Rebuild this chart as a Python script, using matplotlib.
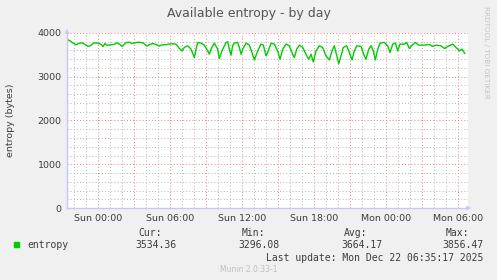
import matplotlib.pyplot as plt

# hours relative to Sun 00:00, and entropy values
hours = [-2.58, -2.33, -2.08, -1.83, -1.58, -1.33, -1.08, -0.83, -0.58, -0.33,
         -0.08, 0.17, 0.33, 0.42, 0.58, 0.75, 1.08, 1.33, 1.58, 1.83,
         2.0, 2.33, 2.58, 2.83, 3.08, 3.33, 3.75, 4.08, 4.33, 4.58,
         4.92, 5.08, 5.33, 5.58, 6.0, 6.42, 6.5, 6.78, 7.0, 7.19,
         7.47, 7.75, 8.03, 8.17, 8.31, 8.58, 8.86, 9.14, 9.28, 9.42,
         9.69, 9.97, 10.11, 10.33, 10.67, 10.81, 10.94, 11.08, 11.22, 11.36,
         11.64, 11.78, 11.92, 12.06, 12.33, 12.61, 12.83, 13.03, 13.31, 13.58,
         13.78, 14.0, 14.14, 14.42, 14.69, 14.97, 15.17, 15.39, 15.67, 15.94,
         16.22, 16.36, 16.56, 16.78, 17.06, 17.33, 17.56, 17.75, 17.94, 18.17,
         18.44, 18.72, 19.0, 19.28, 19.5, 19.69, 19.83, 20.06, 20.25, 20.44,
         20.72, 20.94, 21.17, 21.36, 21.56, 21.92, 22.19, 22.33, 22.56, 22.75,
         22.94, 23.11, 23.31, 23.5, 23.86, 24.14, 24.33, 24.56, 24.78, 24.97,
         25.17, 25.53, 25.72, 25.94, 26.17, 26.44, 26.72, 27.19, 27.61, 27.89,
         28.17, 28.58, 28.86, 29.14, 29.56, 29.83, 30.11, 30.33, 30.56]
entropy = [3856, 3820, 3770, 3730, 3765, 3775, 3740, 3690, 3720, 3775,
           3770, 3750, 3720, 3690, 3760, 3720, 3730, 3740, 3775, 3740,
           3690, 3780, 3790, 3760, 3775, 3790, 3775, 3700, 3740, 3760,
           3730, 3700, 3730, 3730, 3750, 3750, 3746, 3646, 3592, 3669,
           3708, 3631, 3438, 3631, 3785, 3769, 3723, 3592, 3515, 3631,
           3769, 3631, 3415, 3592, 3785, 3800, 3631, 3492, 3708, 3769,
           3785, 3669, 3515, 3631, 3769, 3723, 3554, 3385, 3592, 3746,
           3723, 3477, 3554, 3769, 3746, 3592, 3400, 3631, 3746, 3708,
           3515, 3438, 3631, 3723, 3669, 3515, 3400, 3515, 3338, 3592,
           3708, 3669, 3477, 3385, 3592, 3708, 3554, 3296, 3477, 3669,
           3708, 3554, 3385, 3592, 3708, 3692, 3477, 3400, 3631, 3708,
           3592, 3385, 3631, 3769, 3785, 3708, 3554, 3746, 3769, 3592,
           3746, 3746, 3785, 3646, 3723, 3785, 3723, 3723, 3738, 3692,
           3723, 3708, 3646, 3692, 3746, 3669, 3592, 3631, 3534]

tick_hours = [0, 6, 12, 18, 24, 30]
tick_labels = ['Sun 00:00', 'Sun 06:00', 'Sun 12:00', 'Sun 18:00', 'Mon 00:00', 'Mon 06:00']
stats = [('Cur:', '3534.36'), ('Min:', '3296.08'), ('Avg:', '3664.17'), ('Max:', '3856.47')]

bg = '#f0f0f0'
txt = '#3c3c3c'
fig = plt.figure(figsize=(4.97, 2.80), dpi=100, facecolor=bg)
ax = fig.add_axes([67 / 497, 72 / 280, 401 / 497, 175 / 280])
ax.set_facecolor('white')

ax.set_xlim(-2.583, 30.83)
ax.set_ylim(0, 4000)

# grid: light red majors, grey minors, all dotted
for h in range(-2, 31):
    col = '#f08c8c' if h % 3 == 0 else '#bdbdbd'
    ax.axvline(h, color=col, lw=0.75, ls=(0, (1, 2)), zorder=1)
for v in range(200, 4001, 200):
    col = '#f08c8c' if v % 1000 == 0 else '#bdbdbd'
    ax.axhline(v, color=col, lw=0.75, ls=(0, (1, 2)), zorder=1)

ax.plot(hours, entropy, color='#00cc00', lw=1.0, zorder=3)

ax.set_xticks(tick_hours)
ax.set_xticklabels(tick_labels, fontsize=6.8, color=txt)
ax.set_yticks([0, 1000, 2000, 3000, 4000])
ax.set_yticklabels(['0', '1000', '2000', '3000', '4000'], fontsize=6.8, color=txt)
ax.tick_params(length=0, pad=4)

for s in ['top', 'right']:
    ax.spines[s].set_visible(False)
for s in ['left', 'bottom']:
    ax.spines[s].set_color('#c8c8f4')
    ax.spines[s].set_linewidth(1.0)
    ax.spines[s].set_zorder(4)

# axis arrows
ax.annotate('', xy=(0, 1.04), xytext=(0, 0.99), xycoords='axes fraction',
            arrowprops=dict(arrowstyle='-|>', color='#c8c8f4', lw=0.8, mutation_scale=6),
            annotation_clip=False)
ax.annotate('', xy=(1.015, 0), xytext=(0.99, 0), xycoords='axes fraction',
            arrowprops=dict(arrowstyle='-|>', color='#c8c8f4', lw=0.8, mutation_scale=6),
            annotation_clip=False)

fig.text(248.5 / 497, 1 - 14 / 280, 'Available entropy - by day', ha='center', va='center',
         fontsize=9, color='#555555')
fig.text(11 / 497, 1 - 120 / 280, 'entropy (bytes)', rotation=90, ha='center', va='center',
         fontsize=6.8, color=txt)
fig.text(486 / 497, 1 - 6 / 280, 'RRDTOOL / TOBI OETIKER', rotation=270, ha='center', va='top',
         fontsize=5.2, color='#c4c4c4')

# legend block
fig.patches.append(plt.Rectangle((14 / 497, 1 - 247 / 280), 5 / 497, 5 / 280,
                                 transform=fig.transFigure, color='#00cc00'))
mono = 'DejaVu Sans Mono'
fig.text(27 / 497, 1 - 245 / 280, 'entropy', ha='left', va='center', fontsize=7, family=mono, color=txt)
label_right = [162, 265, 367, 469]
value_right = [176, 279, 382, 483]
for (lab, val), lr, vr in zip(stats, label_right, value_right):
    fig.text(lr / 497, 1 - 233 / 280, lab, ha='right', va='center', fontsize=7, family=mono, color=txt)
    fig.text(vr / 497, 1 - 245 / 280, val, ha='right', va='center', fontsize=7, family=mono, color=txt)
fig.text(483 / 497, 1 - 258 / 280, 'Last update: Mon Dec 22 06:35:17 2025', ha='right', va='center',
         fontsize=7, family=mono, color=txt)
fig.text(249 / 497, 1 - 269 / 280, 'Munin 2.0.33-1', ha='center', va='center', fontsize=5.5,
         color='#c0c0c0')

fig.savefig('out.png', dpi=100, facecolor=bg)
